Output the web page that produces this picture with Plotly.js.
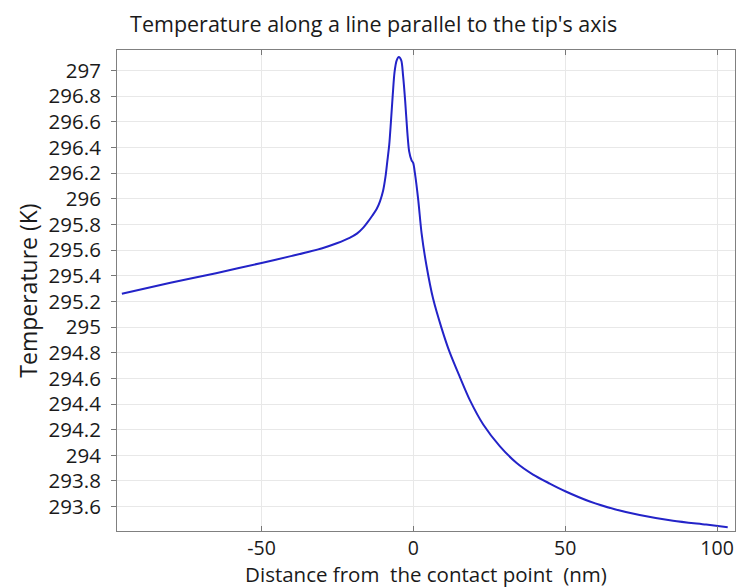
<!DOCTYPE html>
<html>
<head>
<meta charset="utf-8">
<script src="https://cdn.plot.ly/plotly-3.0.1.min.js"></script>
<style>html,body{margin:0;padding:0;background:#fff;}#chart{width:737px;height:588px;}</style>
</head>
<body>
<div id="chart"></div>
<script>
// Distance from the contact point (nm)
const distance = [-96, -80, -65, -50, -40, -30, -25, -21, -18.5, -16.5, -15, -13.5, -12.1, -11, -10, -9.2, -8.6, -7.96, -7.4, -6.8, -6.2, -5.5, -4.8, -4.0, -3.4, -2.7, -2.0, -1.4, -0.6, -0.07, 0.5, 1.6, 2.7, 4.3, 6.5, 9.3, 12.0, 15.3, 18.6, 23.0, 28.5, 34.0, 39.4, 44.9, 50.0, 58.1, 66.3, 74.5, 85.5, 96.4, 103.5];
// Temperature (K)
const temperature = [295.26, 295.345, 295.42, 295.50, 295.555, 295.615, 295.655, 295.695, 295.73, 295.775, 295.82, 295.87, 295.92, 295.98, 296.06, 296.17, 296.29, 296.42, 296.60, 296.81, 296.99, 297.08, 297.105, 297.08, 296.96, 296.76, 296.52, 296.37, 296.30, 296.28, 296.20, 295.99, 295.73, 295.48, 295.22, 294.99, 294.80, 294.61, 294.43, 294.24, 294.07, 293.94, 293.85, 293.78, 293.72, 293.64, 293.58, 293.535, 293.49, 293.46, 293.44];

const xTickVals = [-50, 0, 50, 100];
const xTickText = ["-50", "0", "50", "100"];
const yTickVals = [293.6, 293.8, 294, 294.2, 294.4, 294.6, 294.8, 295, 295.2, 295.4, 295.6, 295.8, 296, 296.2, 296.4, 296.6, 296.8, 297];
const yTickText = ["293.6", "293.8", "294", "294.2", "294.4", "294.6", "294.8", "295", "295.2", "295.4", "295.6", "295.8", "296", "296.2", "296.4", "296.6", "296.8", "297"];

const font = "Open Sans, Noto Sans, DejaVu Sans, sans-serif";

const trace = {
  x: distance,
  y: temperature,
  type: "scatter",
  mode: "lines",
  line: {color: "#2323c8", width: 2, shape: "spline", smoothing: 0.8},
  hoverinfo: "skip"
};

const layout = {
  width: 737,
  height: 588,
  margin: {l: 117, r: 2, t: 50, b: 57},
  paper_bgcolor: "#ffffff",
  plot_bgcolor: "#ffffff",
  showlegend: false,
  title: {
    text: "Temperature along a line parallel to the tip's axis",
    font: {family: font, size: 21.5, color: "#1a1a1a"},
    x: 0.507, xanchor: "center", xref: "container",
    y: 0.959, yanchor: "middle"
  },
  xaxis: {
    range: [-97.6, 105.9],
    tickvals: xTickVals,
    ticktext: xTickText,
    ticks: "inside",
    ticklen: 5,
    tickcolor: "#777",
    showline: true,
    mirror: "ticks",
    linecolor: "#808080",
    linewidth: 1,
    showgrid: true,
    gridcolor: "#e8e8e8",
    zeroline: false,
    tickfont: {family: font, size: 19.5, color: "#1a1a1a"},
    title: {text: "Distance from\u00a0 the contact point\u00a0 (nm)", font: {family: font, size: 20.5, color: "#1a1a1a"}, standoff: 6}
  },
  yaxis: {
    range: [293.41, 297.16],
    tickvals: yTickVals,
    ticktext: yTickText,
    ticks: "outside",
    ticklen: 5,
    tickcolor: "#777",
    showline: true,
    mirror: true,
    linecolor: "#808080",
    linewidth: 1,
    showgrid: true,
    gridcolor: "#e8e8e8",
    zeroline: false,
    ticklabelstandoff: 6,
    tickfont: {family: font, size: 20.5, color: "#1a1a1a"},
    title: {text: "Temperature (K)", font: {family: font, size: 23, color: "#1a1a1a"}, standoff: 4}
  }
};

Plotly.newPlot("chart", [trace], layout, {displayModeBar: false, staticPlot: true});
</script>
</body>
</html>
